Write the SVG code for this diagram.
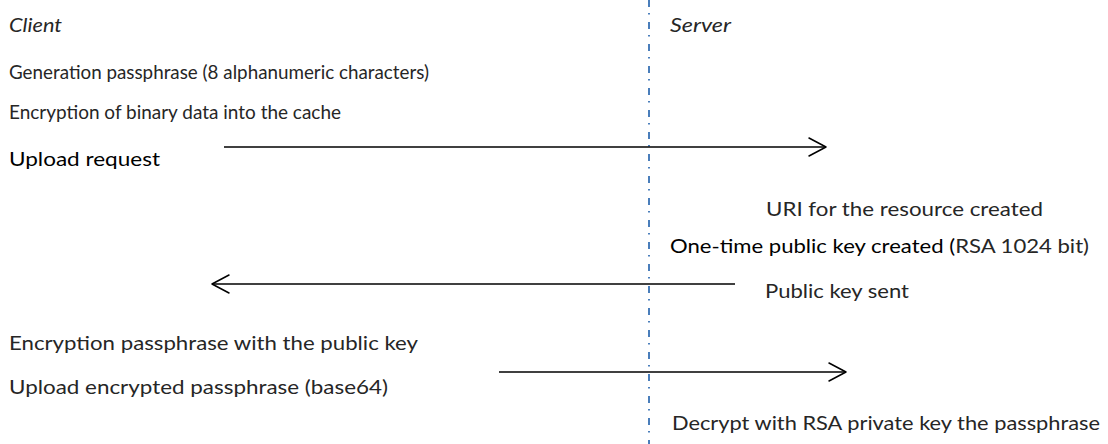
<svg xmlns="http://www.w3.org/2000/svg" width="1108" height="444" viewBox="0 0 1108 444">
<style>
text{font-family:Lato,"Open Sans","Liberation Sans",sans-serif;font-size:19px;fill:#262626}
.it{font-style:italic}
.bk{fill:#000}
.ln{stroke:#000;stroke-width:1.5;fill:none}
.hd{stroke:#000;stroke-width:1.5;fill:none;stroke-linecap:round;stroke-linejoin:round}
.sep{stroke:#4a7ebb;stroke-width:2;stroke-dasharray:7 6 1.5 7.5;fill:none}
</style>
<rect width="1108" height="444" fill="#fff"/>
<g id="separator"><line class="sep" x1="649" y1="0" x2="649" y2="444"/></g>
<g id="client">
<text class="it" x="9" y="32" textLength="53" lengthAdjust="spacingAndGlyphs">Client</text>
<text x="9" y="79" textLength="420" lengthAdjust="spacingAndGlyphs">Generation passphrase (8 alphanumeric characters)</text>
<text x="9" y="119" textLength="332" lengthAdjust="spacingAndGlyphs">Encryption of binary data into the cache</text>
<text class="bk" x="9" y="166" textLength="151" lengthAdjust="spacingAndGlyphs">Upload request</text>
<text x="9" y="350" textLength="409" lengthAdjust="spacingAndGlyphs">Encryption passphrase with the public key</text>
<text x="9" y="394" textLength="379" lengthAdjust="spacingAndGlyphs">Upload encrypted passphrase (base64)</text>
</g>
<g id="server">
<text class="it" x="670" y="32" textLength="61" lengthAdjust="spacingAndGlyphs">Server</text>
<text x="766" y="216" textLength="277" lengthAdjust="spacingAndGlyphs">URI for the resource created</text>
<text x="670" y="253" textLength="419" lengthAdjust="spacingAndGlyphs"><tspan class="bk">One-time public key created (</tspan>RSA 1024 bit)</text>
<text x="765" y="298" textLength="144" lengthAdjust="spacingAndGlyphs">Public key sent</text>
<text x="672" y="430" textLength="428" lengthAdjust="spacingAndGlyphs">Decrypt with RSA private key the passphrase</text>
</g>
<g id="connectors">
<line class="ln" x1="224" y1="147" x2="826" y2="147"/>
<polyline class="hd" points="809,138 826,147 809,156"/>
<line class="ln" x1="735" y1="284" x2="212" y2="284"/>
<polyline class="hd" points="229,275 212,284 229,293"/>
<line class="ln" x1="499" y1="372" x2="846" y2="372"/>
<polyline class="hd" points="829,363 846,372 829,381"/>
</g>
</svg>
